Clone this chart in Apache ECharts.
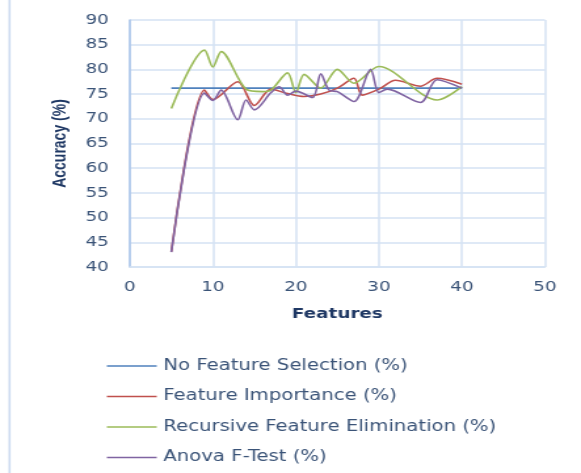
<!DOCTYPE html>
<html>
<head>
<meta charset="utf-8">
<title>Accuracy vs Features</title>
<script src="https://cdn.jsdelivr.net/npm/echarts@6/dist/echarts.min.js"></script>
<style>
  html, body { margin: 0; padding: 0; background: #ffffff; overflow: hidden; }
  /* the chart is laid out narrow and stretched sideways to the full page width */
  #chart {
    width: 443px;
    height: 473px;
    transform: scaleX(1.3115);
    transform-origin: 0 0;
  }
</style>
</head>
<body>
<div id="chart"></div>
<script>
// Feature counts and accuracies (%) per selection method
const baseFeatures = [5, 40];
const baseAccuracy = [76.2, 76.2];

const fiFeatures = [5, 9, 10, 13, 15, 17, 19, 21, 23, 25, 27, 28, 30, 32, 35, 37, 40];
const fiAccuracy = [43.1, 75.8, 73.9, 77.5, 72.7, 76.0, 75.1, 74.5, 75.0, 76.2, 78.2, 74.8, 76.0, 77.8, 76.6, 78.2, 77.0];

const rfeFeatures = [5, 9, 10, 11, 14, 16, 17, 19, 20, 21, 23, 25, 27, 30, 37, 40];
const rfeAccuracy = [72.1, 83.9, 80.5, 83.6, 76.0, 75.5, 75.8, 79.3, 75.3, 79.0, 76.2, 80.0, 77.2, 80.6, 73.8, 76.5];

const anovaFeatures = [5, 9, 10, 11, 13, 14, 15, 17, 18, 19, 20, 22, 23, 24, 25, 27, 29, 30, 31, 35, 37, 40];
const anovaAccuracy = [43.0, 75.2, 73.7, 75.8, 69.8, 73.8, 71.8, 75.3, 76.5, 74.8, 75.6, 74.3, 79.1, 75.8, 75.5, 73.5, 80.0, 75.3, 76.0, 73.3, 77.9, 76.2];

const seriesNames = [
  'No Feature Selection (%)',
  'Feature Importance (%)',
  'Recursive Feature Elimination (%)',
  'Anova F-Test (%)'
];
const seriesColors = ['#4f81bd', '#c0504d', '#9bbb59', '#8064a2'];

const xTicks = { min: 0, max: 50, step: 10 };
const yTicks = { min: 40, max: 90, step: 5 };

const pairs = (xs, ys) => xs.map((x, i) => [x, ys[i]]);
const seriesData = [
  pairs(baseFeatures, baseAccuracy),
  pairs(fiFeatures, fiAccuracy),
  pairs(rfeFeatures, rfeAccuracy),
  pairs(anovaFeatures, anovaAccuracy)
];

const gridColor = '#d5e2f3';
const labelColor = '#3b5478';
const titleColor = '#1f3864';

const chart = echarts.init(document.getElementById('chart'), null, { renderer: 'canvas' });

chart.setOption({
  animation: false,
  backgroundColor: '#ffffff',
  grid: { left: 99, right: 27.5, top: 20, bottom: 206, containLabel: false },
  xAxis: {
    type: 'value',
    min: xTicks.min,
    max: xTicks.max,
    interval: xTicks.step,
    name: 'Features',
    nameLocation: 'middle',
    nameGap: 40,
    nameTextStyle: { fontFamily: 'DejaVu Sans', fontWeight: 'bold', fontSize: 14, color: titleColor },
    axisLine: { show: true, lineStyle: { color: gridColor, width: 1.5 } },
    axisTick: { show: false },
    axisLabel: { margin: 13, fontFamily: 'DejaVu Sans', fontSize: 14, color: labelColor },
    splitLine: { show: true, lineStyle: { color: gridColor, width: 1.5 } }
  },
  yAxis: {
    type: 'value',
    min: yTicks.min,
    max: yTicks.max,
    interval: yTicks.step,
    name: 'Accuracy (%)',
    nameLocation: 'middle',
    nameRotate: 90,
    nameGap: 46,
    nameTextStyle: { fontFamily: 'Liberation Sans', fontWeight: 'bold', fontSize: 14, color: titleColor },
    axisLine: { show: true, lineStyle: { color: '#aac5ea', width: 1.5 } },
    axisTick: { show: false },
    axisLabel: { margin: 16, fontFamily: 'DejaVu Sans', fontSize: 14, color: labelColor },
    splitLine: { show: true, lineStyle: { color: gridColor, width: 1.5 } }
  },
  legend: {
    orient: 'vertical',
    left: 76.5,
    top: 353,
    icon: 'rect',
    itemWidth: 38,
    itemHeight: 1.3,
    itemGap: 14.5,
    textStyle: { fontFamily: 'DejaVu Sans', fontSize: 15, lineHeight: 16, color: labelColor },
    data: seriesNames
  },
  graphic: [
    {
      type: 'line',
      shape: { x1: 7.3, y1: 0, x2: 7.3, y2: 473 },
      style: { stroke: '#cbdaf0', lineWidth: 1.6 }
    }
  ],
  series: seriesNames.map((name, i) => ({
    name,
    type: 'line',
    data: seriesData[i],
    smooth: 0.3,
    symbol: 'none',
    color: seriesColors[i],
    lineStyle: { width: 1.6, color: seriesColors[i] },
    z: 2 + i
  }))
});
</script>
</body>
</html>
